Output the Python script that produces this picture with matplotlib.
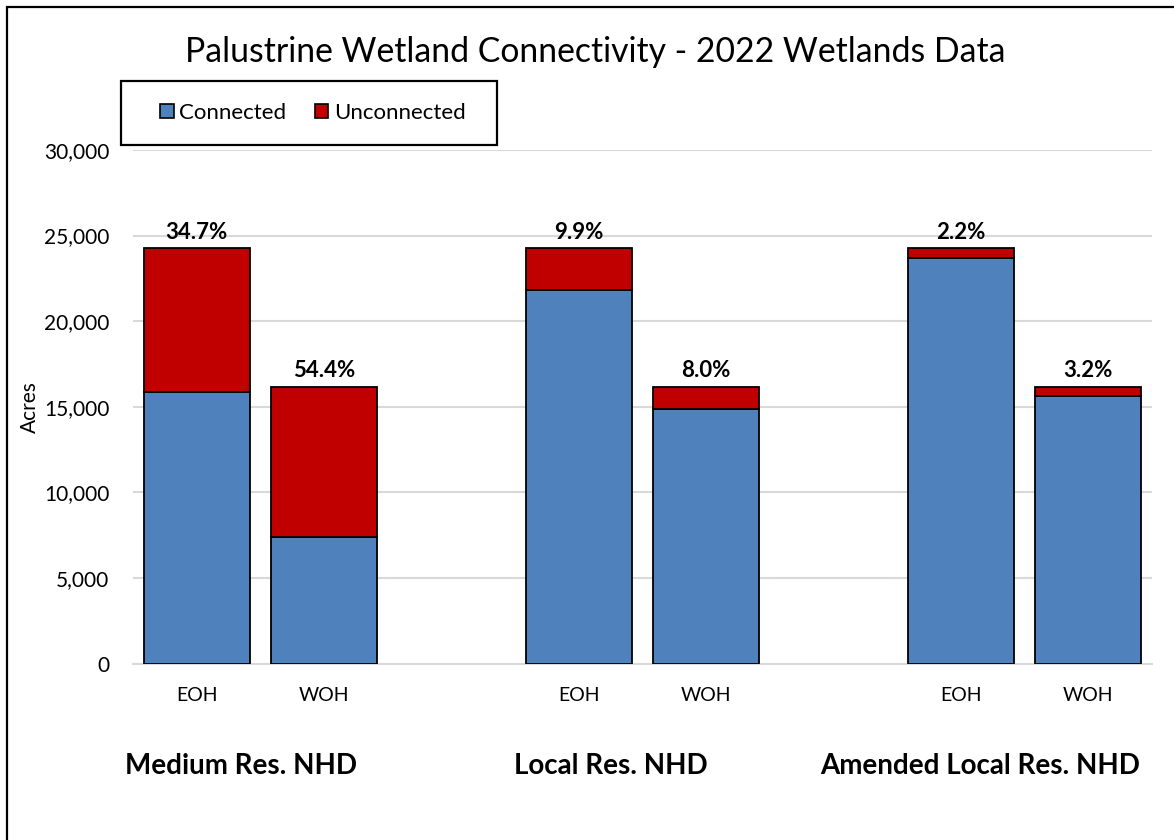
import matplotlib
matplotlib.use("Agg")
import matplotlib.pyplot as plt
from matplotlib.patches import Patch, Rectangle
from matplotlib.ticker import FuncFormatter

plt.rcParams["font.family"] = ["Lato", "DejaVu Sans"]

# Data (acres)
groups = ["Medium Res. NHD", "Local Res. NHD", "Amended Local Res. NHD"]
sides = ["EOH", "WOH"]
connected = [15835, 7374, 21849, 14876, 23717, 15653]
unconnected = [8415, 8796, 2401, 1294, 533, 517]
pct_labels = ["34.7%", "54.4%", "9.9%", "8.0%", "2.2%", "3.2%"]

blue = "#4F81BD"
red = "#C00000"

fig = plt.figure(figsize=(11.74, 8.4), dpi=100)
ax = fig.add_axes([133 / 1174, 1 - 663.5 / 840, (1152 - 133) / 1174, (663.5 - 150) / 840])

# positions: two bars per group, one empty slot between groups
xpos = []
for g in range(len(groups)):
    xpos += [g * 3, g * 3 + 1]

ax.bar(xpos, connected, width=0.835, color=blue, edgecolor="black",
       linewidth=1.3, label="Connected", zorder=3)
ax.bar(xpos, unconnected, width=0.835, bottom=connected, color=red,
       edgecolor="black", linewidth=1.3, label="Unconnected", zorder=3)

for x, c, u, lab in zip(xpos, connected, unconnected, pct_labels):
    ax.annotate(lab, (x, c + u), xytext=(0, 4), textcoords="offset points",
                ha="center", va="bottom", fontsize=16, fontweight="bold")

ax.set_xlim(-0.5, 7.5)
ax.set_ylim(0, 30000)
ax.set_yticks(range(0, 30001, 5000))
ax.yaxis.set_major_formatter(FuncFormatter(lambda v, p: f"{int(v):,}"))
ax.set_xticks(xpos)
ax.set_xticklabels(sides * len(groups))
ax.tick_params(axis="y", length=0, pad=17, labelsize=15)
ax.tick_params(axis="x", length=0, pad=17, labelsize=14)
ax.grid(axis="y", color="#D9D9D9", linewidth=1.5, zorder=0)
for s in ["top", "right", "left"]:
    ax.spines[s].set_visible(False)
ax.spines["bottom"].set_color("#D9D9D9")
ax.spines["bottom"].set_linewidth(1.5)
ax.set_axisbelow(True)

fig.text(30 / 1174, 1 - 407 / 840, "Acres", rotation=90, ha="center",
         va="center", fontsize=15)
fig.text(595 / 1174, 1 - 52 / 840, "Palustrine Wetland Connectivity - 2022 Wetlands Data",
         ha="center", va="center", fontsize=24.3)

# group labels under the axis
group_x = [241, 611, 980]
for gx, name in zip(group_x, groups):
    fig.text(gx / 1174, 1 - 766 / 840, name, ha="center", va="center",
             fontsize=20, fontweight="bold")

# legend box
fig.patches.append(Rectangle((121 / 1174, 1 - 145 / 840), 376 / 1174, 64 / 840,
                             transform=fig.transFigure, facecolor="white",
                             edgecolor="black", linewidth=1.6, zorder=5))
handles = [Patch(facecolor=blue, edgecolor="black", linewidth=1.2, label="Connected"),
           Patch(facecolor=red, edgecolor="black", linewidth=1.2, label="Unconnected")]
leg = fig.legend(handles=handles, loc="center", ncol=2, frameon=False,
                 bbox_to_anchor=(313 / 1174, 1 - 113 / 840), fontsize=16,
                 handlelength=0.6, handleheight=0.6, handletextpad=0.25,
                 columnspacing=1.3)
leg.set_zorder(6)

# outer border (only left and top edges fall inside the image)
fig.patches.append(Rectangle((7 / 1174, -0.1), 1.2, 1.1 - 7 / 840,
                             transform=fig.transFigure, fill=False,
                             edgecolor="black", linewidth=1.6))

fig.savefig("out.png", dpi=100)
